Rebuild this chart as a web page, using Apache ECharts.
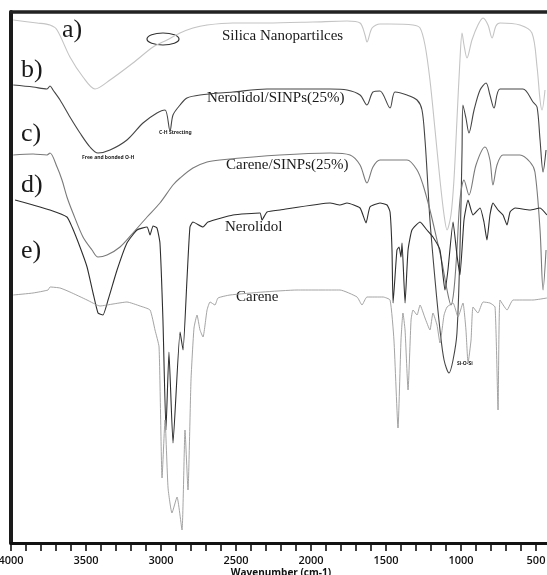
<!DOCTYPE html>
<html>
<head>
<meta charset="utf-8">
<script src="https://cdn.jsdelivr.net/npm/echarts@6/dist/echarts.min.js"></script>
<style>
  html, body { margin: 0; padding: 0; background: #fff; }
  #ftir { width: 547px; height: 575px; }
</style>
</head>
<body>
<div id="ftir"></div>
<script>
// wavenumbers (cm-1) and offset transmittance (a.u.)

// a) Silica Nanoparticles
const silicaWn = [3985,3827,3740,3693,3607,3520,3440,3340,3187,3053,2960,2873,2787,2693,2520,2293,1987,1760,1673,1640,1627,1593,1540,1473,1320,1273,1240,1207,1173,1140,1113,1093,1067,1047,1027,1007,993,980,960,927,887,853,820,793,767,740,607,527,493,473,460,440];
const silicaT  = [523,520,518,513,486,466,454,463,480,496,503,510,515,518,520,520,521,522,520,508,501,515,519,519,518,515,498,463,413,363,328,313,328,363,423,483,510,498,485,503,518,525,518,505,517,520,518,510,476,443,433,453];

// b) Nerolidol/SINPs(25%)
const nerSiWn = [3985,3853,3760,3740,3720,3673,3607,3540,3473,3420,3340,3227,3120,3027,2973,2940,2920,2873,2827,2740,2520,2293,1873,1760,1673,1627,1587,1540,1473,1440,1360,1293,1260,1240,1227,1207,1173,1140,1113,1080,1053,1027,1007,993,987,967,947,913,873,833,807,780,740,587,520,493,473,453,433];
const nerSiT  = [458,456,454,457,453,443,426,410,396,390,393,403,420,430,433,412,428,438,445,448,451,454,454,453,448,438,451,452,435,451,448,443,433,403,373,323,263,213,183,170,183,210,293,393,438,425,410,433,453,460,448,435,454,454,441,436,403,371,393];

// c) Carene/SINPs(25%)
const carSiWn = [3985,3853,3760,3740,3693,3660,3627,3587,3520,3460,3420,3360,3273,3187,3093,3007,2920,2873,2787,2693,2607,2207,1873,1740,1673,1627,1587,1540,1360,1293,1253,1207,1160,1127,1093,1067,1047,1027,1007,980,947,900,840,807,787,760,720,607,540,507,473,453,433];
const carSiT  = [388,389,388,390,376,363,346,330,306,293,286,288,296,310,326,340,358,365,375,381,383,388,390,388,378,360,376,383,383,373,358,333,303,281,253,238,253,293,343,363,348,378,396,383,358,378,388,388,381,371,313,253,293];

// d) Nerolidol
const nerWn = [3973,3853,3740,3627,3593,3540,3493,3453,3420,3387,3353,3293,3227,3160,3093,3073,3053,3027,3007,2987,2967,2947,2920,2873,2853,2827,2807,2787,2720,2687,2520,2340,2327,2293,2207,1873,1807,1760,1673,1633,1607,1540,1493,1473,1460,1453,1427,1413,1400,1393,1373,1353,1327,1273,1227,1187,1140,1107,1087,1053,1027,1007,980,953,920,873,847,827,807,787,753,720,693,673,640,540,473,427];
const nerT  = [343,338,333,326,316,296,276,250,230,228,243,273,300,313,316,308,317,315,300,223,113,191,100,211,193,263,316,321,316,321,328,330,323,331,333,340,338,340,335,320,336,340,338,331,293,240,293,296,286,300,240,293,313,321,313,306,293,253,273,321,288,268,323,343,328,335,321,303,328,340,333,328,318,331,335,333,335,328];

// e) Carene
const carWn = [3985,3853,3753,3740,3673,3607,3493,3407,3320,3227,3140,3073,3040,3013,2993,2973,2953,2927,2893,2860,2840,2820,2800,2780,2760,2740,2720,2693,2673,2640,2620,2540,2320,2093,1807,1693,1660,1627,1520,1473,1447,1420,1400,1387,1373,1353,1333,1320,1293,1273,1240,1207,1187,1160,1140,1113,1093,1053,1020,987,967,953,933,920,887,853,807,773,753,740,693,653,520,427];
const carT  = [248,250,253,256,255,251,243,237,239,241,237,233,213,196,65,123,55,30,46,13,113,53,163,215,228,213,206,233,241,238,245,248,251,253,253,246,238,246,246,243,203,115,203,230,213,153,223,233,228,238,225,213,230,218,200,228,236,240,226,240,213,180,203,236,230,241,240,236,133,243,233,243,243,245];

const tickLabels = [4000, 3500, 3000, 2500, 2000, 1500, 1000, 500];

function pairs(wn, t) {
  return wn.map((w, i) => [w, t[i]]);
}

const chart = echarts.init(document.getElementById('ftir'));

const serif = 'Liberation Serif';
const tagStyle = { fontFamily: serif, fontSize: 26, fill: '#1a1a1a' };
const nameStyle = { fontFamily: serif, fontSize: 15, fill: '#1a1a1a' };
const noteStyle = { fontFamily: 'Noto Sans', fontSize: 5, fontWeight: 'bold', fill: '#222' };

chart.setOption({
  animation: false,
  backgroundColor: '#fff',
  grid: { left: 11, top: 12, width: 540, height: 531, show: false, containLabel: false, outerBoundsMode: 'none' },
  xAxis: [
    {
      type: 'value',
      min: 400,
      max: 4000,
      interval: 100,
      inverse: true,
      name: 'Wavenumber (cm-1)',
      nameLocation: 'middle',
      nameGap: 25,
      nameMoveOverlap: false,
      nameTextStyle: { fontFamily: 'Open Sans', fontSize: 10, fontWeight: 'bold', color: '#111' },
      axisLine: { onZero: false, lineStyle: { color: '#111', width: 3 } },
      axisTick: { length: 8, lineStyle: { color: '#111', width: 1.6 } },
      axisLabel: {
        margin: 12,
        fontFamily: 'Open Sans',
        fontSize: 11,
        fontWeight: 600,
        color: '#111',
        hideOverlap: false,
        showMinLabel: false,
        showMaxLabel: true,
        formatter: v => (tickLabels.includes(v) ? String(v) : '')
      },
      splitLine: { show: false }
    },
    {
      type: 'value',
      position: 'top',
      min: 400,
      max: 4000,
      inverse: true,
      axisLine: { onZero: false, lineStyle: { color: '#222', width: 3.5 } },
      axisTick: { show: false },
      axisLabel: { show: false },
      splitLine: { show: false }
    }
  ],
  yAxis: {
    type: 'value',
    min: 0,
    max: 531,
    axisLine: { show: true, onZero: false, lineStyle: { color: '#1a1a1a', width: 4 } },
    axisTick: { show: false },
    axisLabel: { show: false },
    splitLine: { show: false }
  },
  series: [
    { name: 'Silica Nanopartilces', type: 'line', data: pairs(silicaWn, silicaT), showSymbol: false, smooth: 0.3,
      lineStyle: { color: '#c4c4c4', width: 1.1 } },
    { name: 'Nerolidol/SINPs(25%)', type: 'line', data: pairs(nerSiWn, nerSiT), showSymbol: false, smooth: 0.3,
      lineStyle: { color: '#454545', width: 1.1 } },
    { name: 'Carene/SINPs(25%)', type: 'line', data: pairs(carSiWn, carSiT), showSymbol: false, smooth: 0.3,
      lineStyle: { color: '#7a7a7a', width: 1.1 } },
    { name: 'Nerolidol', type: 'line', data: pairs(nerWn, nerT), showSymbol: false, smooth: 0.15,
      lineStyle: { color: '#2e2e2e', width: 1.1 } },
    { name: 'Carene', type: 'line', data: pairs(carWn, carT), showSymbol: false, smooth: 0.15,
      lineStyle: { color: '#9a9a9a', width: 0.9 } }
  ],
  graphic: [
    { type: 'text', left: 62, top: 17, style: Object.assign({ text: 'a)' }, tagStyle) },
    { type: 'text', left: 21, top: 57, style: Object.assign({ text: 'b)' }, tagStyle) },
    { type: 'text', left: 21, top: 121, style: Object.assign({ text: 'c)' }, tagStyle) },
    { type: 'text', left: 21, top: 172, style: Object.assign({ text: 'd)' }, tagStyle) },
    { type: 'text', left: 21, top: 238, style: Object.assign({ text: 'e)' }, tagStyle) },
    { type: 'text', left: 222, top: 29, style: Object.assign({ text: 'Silica Nanopartilces' }, nameStyle) },
    { type: 'text', left: 207, top: 91, style: Object.assign({ text: 'Nerolidol/SINPs(25%)' }, nameStyle) },
    { type: 'text', left: 226, top: 158, style: Object.assign({ text: 'Carene/SINPs(25%)' }, nameStyle) },
    { type: 'text', left: 225, top: 220, style: Object.assign({ text: 'Nerolidol' }, nameStyle) },
    { type: 'text', left: 236, top: 290, style: Object.assign({ text: 'Carene' }, nameStyle) },
    { type: 'text', left: 159, top: 130, style: Object.assign({ text: 'C-H Strecting' }, noteStyle) },
    { type: 'text', left: 82, top: 155, style: Object.assign({ text: 'Free and bonded O-H' }, noteStyle) },
    { type: 'text', left: 457, top: 361, style: Object.assign({ text: 'Si-O-Si' }, noteStyle) },
    { type: 'ellipse', shape: { cx: 163, cy: 39, rx: 16, ry: 6 },
      style: { fill: 'none', stroke: '#333', lineWidth: 1.2 } }
  ]
});
</script>
</body>
</html>
